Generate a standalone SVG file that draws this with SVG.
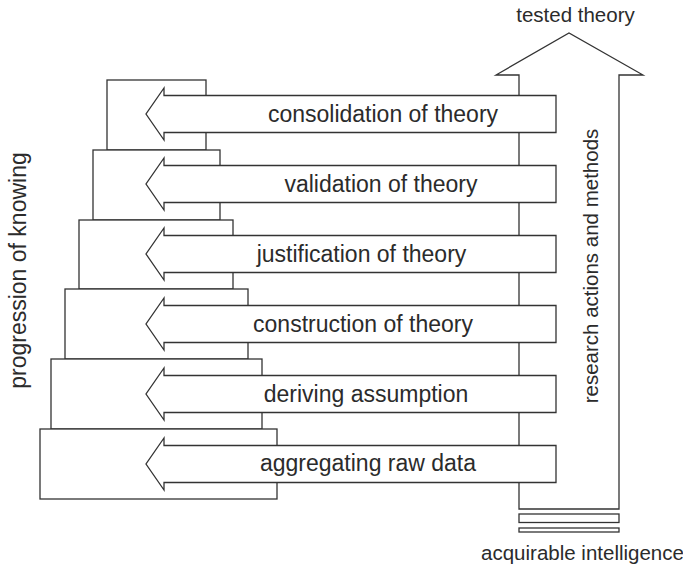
<svg xmlns="http://www.w3.org/2000/svg" width="683" height="569" viewBox="0 0 683 569">
  <style>
    .ln { fill: #ffffff; stroke: #333333; stroke-width: 1.3; stroke-linejoin: miter; }
    .lbl { font-family: "Liberation Sans", Arial, sans-serif; font-size: 23px; fill: #2b2b2b; text-anchor: middle; }
    .cap { font-family: "Liberation Sans", Arial, sans-serif; font-size: 20.5px; fill: #2b2b2b; text-anchor: middle; }
  </style>

  <!-- staircase of knowing levels -->
  <g id="steps">
    <rect id="step-1" class="ln" x="107" y="80" width="99" height="70"/>
    <rect id="step-2" class="ln" x="93" y="150" width="127" height="70"/>
    <rect id="step-3" class="ln" x="79" y="220" width="154" height="69"/>
    <rect id="step-4" class="ln" x="65" y="289" width="183" height="70"/>
    <rect id="step-5" class="ln" x="51" y="359" width="211" height="70"/>
    <rect id="step-6" class="ln" x="40" y="429" width="237" height="70"/>
  </g>

  <!-- large upward arrow with base bars -->
  <g id="research-arrow">
    <polygon class="ln" points="519,509 519,75 496,75 569,33 643,75 619,75 619,509"/>
    <rect class="ln" x="519" y="514" width="100" height="8.5"/>
    <rect class="ln" x="519" y="528" width="100" height="4"/>
  </g>

  <!-- leftward block arrows, one per activity -->
  <g id="connectors">
    <polygon id="arrow-consolidation" class="ln" points="556,95.5 164,95.5 164,88 146,114 164,140 164,132.5 556,132.5"/>
    <polygon id="arrow-validation" class="ln" points="556,165.5 164,165.5 164,158 146,184 164,210 164,202.5 556,202.5"/>
    <polygon id="arrow-justification" class="ln" points="556,235.5 164,235.5 164,228 146,254 164,280 164,272.5 556,272.5"/>
    <polygon id="arrow-construction" class="ln" points="556,305.5 164,305.5 164,298 146,324 164,350 164,342.5 556,342.5"/>
    <polygon id="arrow-deriving" class="ln" points="556,375.5 164,375.5 164,368 146,394 164,420 164,412.5 556,412.5"/>
    <polygon id="arrow-aggregating" class="ln" points="556,445.5 164,445.5 164,438 146,464 164,490 164,482.5 556,482.5"/>
  </g>

  <g id="labels">
    <text class="lbl" x="383" y="122">consolidation of theory</text>
    <text class="lbl" x="381" y="192">validation of theory</text>
    <text class="lbl" x="361.5" y="262">justification of theory</text>
    <text class="lbl" x="363" y="331.5">construction of theory</text>
    <text class="lbl" x="366" y="401.5">deriving assumption</text>
    <text class="lbl" x="368" y="470.5">aggregating raw data</text>
  </g>

  <g id="captions">
    <text class="cap" x="575.5" y="22">tested theory</text>
    <text class="cap" x="582.5" y="560">acquirable intelligence</text>
    <text class="lbl" transform="translate(26,270.5) rotate(-90)">progression of knowing</text>
    <text class="cap" transform="translate(598,266) rotate(-90)">research actions and methods</text>
  </g>
</svg>
